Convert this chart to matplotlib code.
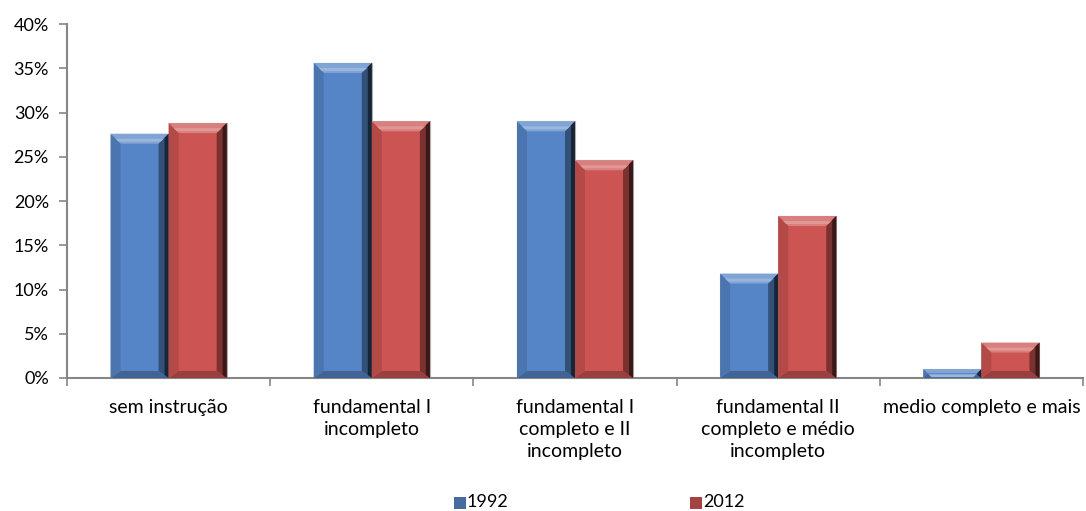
import numpy as np
import matplotlib.pyplot as plt
from matplotlib.patches import Polygon, Rectangle
from matplotlib.colors import to_rgb
from matplotlib.ticker import FuncFormatter

plt.rcParams['font.family'] = ['Lato', 'DejaVu Sans']

categorias = ["sem instrução", "fundamental I\nincompleto",
              "fundamental I\ncompleto e II\nincompleto",
              "fundamental II\ncompleto e médio\nincompleto",
              "medio completo e mais"]
v1992 = [27.6, 35.6, 29.0, 11.8, 1.0]
v2012 = [28.8, 29.0, 24.6, 18.3, 4.0]
anos = ["1992", "2012"]
cores = ["#5585c6", "#cc5452"]

W, H = 1086, 511
fig = plt.figure(figsize=(W / 100, H / 100), dpi=100)
ax = fig.add_axes([67 / W, 1 - 378 / H, (1083 - 67) / W, (378 - 24) / H])

x = np.arange(len(categorias))
largura = 1 / 3.5
ax.set_xlim(-0.5, len(categorias) - 0.5)
ax.set_ylim(0, 40)
ax.set_yticks(np.arange(0, 41, 5))
ax.yaxis.set_major_formatter(FuncFormatter(lambda v, p: f"{v:.0f}%"))
ax.set_xticks(x)
ax.set_xticklabels(categorias, fontsize=14, linespacing=1.38)
ax.set_xticks(np.arange(-0.5, len(categorias)), minor=True)
ax.tick_params(axis='x', which='major', length=0, pad=15)
ax.tick_params(axis='x', which='minor', length=6, color="#868686", width=1.2, direction='out')
ax.tick_params(axis='y', length=6, color="#868686", width=1.2, labelsize=13, pad=7)
for s in ["top", "right"]:
    ax.spines[s].set_visible(False)
for s in ["left", "bottom"]:
    ax.spines[s].set_color("#868686")
    ax.spines[s].set_linewidth(1.5)


def mix(c, alvo, t):
    c = np.array(to_rgb(c))
    return tuple(c + (np.array(to_rgb(alvo)) - c) * t)


def bisel(ret, cor):
    # bevel drawn in pixel coordinates over the plain bar
    (x0, y0), (x1, y1) = ax.transData.transform(
        [(ret.get_x(), ret.get_y()), (ret.get_x() + ret.get_width(), ret.get_y() + ret.get_height())])
    alt = y1 - y0
    b = min(10, alt / 2 - 0.5)
    bb = min(7, alt / 2 - 0.5)
    if b <= 0:
        return
    ix0, ix1, iy0, iy1 = x0 + b, x1 - b, y0 + bb, y1 - b
    faces = [
        ([(x0, y1), (x1, y1), (ix1, iy1), (ix0, iy1)], mix(cor, "white", 0.25)),
        ([(x1, y1), (x1, y0), (ix1, iy0), (ix1, iy1)], mix(cor, "black", 0.4)),
        ([(x0, y0), (x1, y0), (ix1, iy0), (ix0, iy0)], mix(cor, "black", 0.25)),
        ([(x0, y1), (x0, y0), (ix0, iy0), (ix0, iy1)], mix(cor, "black", 0.12)),
    ]
    for pts, c in faces:
        ax.add_patch(Polygon(pts, closed=True, facecolor=c, edgecolor='none',
                             transform=None, zorder=3, clip_on=False))
    # darker outer strip on the right face
    ax.add_patch(Polygon([(x1 - 4, y1 - 4), (x1, y1), (x1, y0), (x1 - 4, y0 + 3)], closed=True,
                         facecolor=mix(cor, "black", 0.72), edgecolor='none', transform=None,
                         zorder=3, clip_on=False))
    # lighter highlight band on the top face
    ax.add_patch(Polygon([(x0 + 5, y1 - 5), (x1 - 5, y1 - 5), (x1 - 8, y1 - 8), (x0 + 8, y1 - 8)],
                         closed=True, facecolor=mix(cor, "white", 0.4), edgecolor='none',
                         transform=None, zorder=3, clip_on=False))


for i, (vals, cor) in enumerate(zip([v1992, v2012], cores)):
    barras = ax.bar(x + (i - 0.5) * largura, vals, largura, color=cor,
                    edgecolor="#b0b0b0", linewidth=0.8, zorder=2)
    for r in barras:
        bisel(r, cor)

# legend
for px, ano, cor in [(454, anos[0], cores[0]), (690, anos[1], cores[1])]:
    fig.add_artist(Rectangle((px / W, 1 - 509 / H), 12 / W, 12 / H, facecolor=mix(cor, "black", 0.2),
                             edgecolor='none', transform=fig.transFigure))
    fig.text((px + 13) / W, 1 - 502 / H, ano, fontsize=13, va='center', ha='left')

fig.savefig("out.png", dpi=100)
